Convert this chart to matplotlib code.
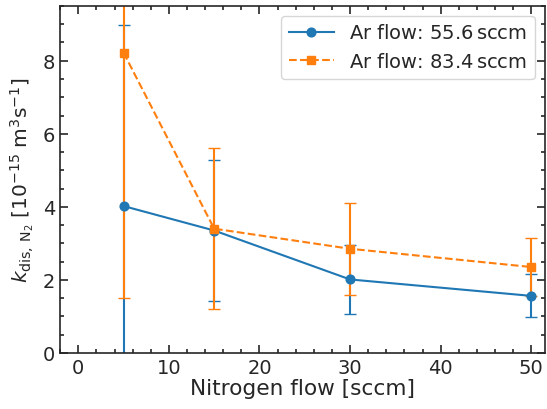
import numpy as np
import matplotlib
matplotlib.use("Agg")
import matplotlib.pyplot as plt
from matplotlib.ticker import MultipleLocator

# data
n2_flow = [5, 15, 30, 50]
k_ar556 = [4.02, 3.35, 2.01, 1.56]
err_ar556 = [4.95, 1.93, 0.95, 0.59]
k_ar834 = [8.22, 3.40, 2.85, 2.35]
err_ar834 = [6.71, 2.21, 1.26, 0.79]
labels = ["Ar flow: 55.6$\\,$sccm", "Ar flow: 83.4$\\,$sccm"]

plt.rcParams['font.family'] = ['DejaVu Sans']
plt.rcParams['mathtext.fontset'] = 'dejavusans'

fig = plt.figure(figsize=(5.47, 4.10), dpi=100)
ax = fig.add_axes([0.11, 0.137, 0.886, 0.846])

dark = '#262626'
ax.errorbar(n2_flow, k_ar556, yerr=err_ar556, fmt='o-', color='tab:blue',
            ms=6.3, lw=1.5, capsize=4, elinewidth=1.5, label=labels[0])
ax.errorbar(n2_flow, k_ar834, yerr=err_ar834, fmt='s--', color='tab:orange',
            ms=6.3, lw=1.5, capsize=4, elinewidth=1.5, label=labels[1])

ax.set_xlim(-2, 51.5)
ax.set_ylim(0, 9.5)
ax.xaxis.set_major_locator(MultipleLocator(10))
ax.xaxis.set_minor_locator(MultipleLocator(2))
ax.yaxis.set_major_locator(MultipleLocator(2))
ax.yaxis.set_minor_locator(MultipleLocator(0.5))
ax.tick_params(which='both', direction='in', top=True, right=True,
               colors=dark, labelsize=14, width=1.2)
ax.tick_params(which='major', length=6)
ax.tick_params(which='minor', length=3)
for s in ax.spines.values():
    s.set_color(dark)
    s.set_linewidth(1.2)

ax.set_xlabel('Nitrogen flow [sccm]', fontsize=15.6, color=dark, labelpad=1)
ax.set_ylabel(r'$k_{\mathrm{dis,\,N_2}}$ [$10^{-15}$ m$^3$s$^{-1}$]',
              fontsize=14.5, color=dark, labelpad=5)

handles, labs = ax.get_legend_handles_labels()
handles = [h[0] for h in handles]
leg = ax.legend(handles, labs, loc='upper right', fontsize=14, frameon=True,
                fancybox=True, edgecolor='#cccccc', labelcolor=dark,
                handlelength=2.3)

fig.savefig('out.png', dpi=100)
